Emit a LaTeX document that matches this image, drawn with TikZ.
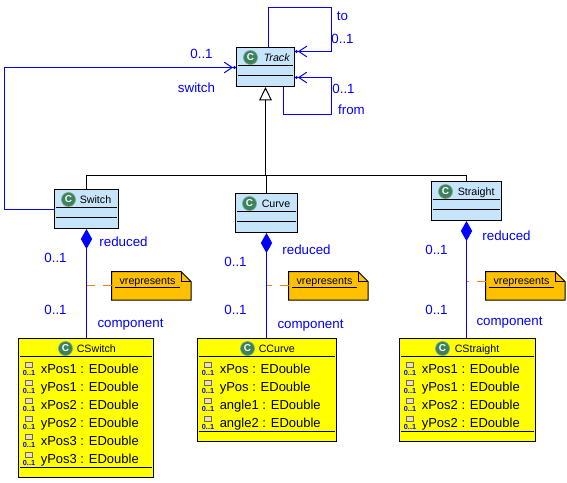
\documentclass[tikz,border=0pt]{standalone}
\usepackage{fontspec}
\setmainfont{Liberation Sans}
\usetikzlibrary{arrows.meta,calc}
\definecolor{classblue}{RGB}{198,228,250}
\definecolor{classyellow}{RGB}{255,255,0}
\definecolor{noteorange}{RGB}{255,192,0}
\definecolor{linkblue}{RGB}{0,0,255}
\definecolor{dashorange}{RGB}{255,128,0}
\definecolor{icongreen}{RGB}{60,130,90}
\definecolor{attrtan}{RGB}{240,225,170}
\tikzset{
  classbox/.style={draw=black, line width=0.75pt, inner sep=0pt},
  titletext/.style={anchor=west, inner sep=0pt, text height=6pt, text depth=0pt, font=\fontsize{8}{8}\selectfont},
  classicon/.style={circle, fill=icongreen, draw=icongreen!70!white, line width=0.5pt, inner sep=0pt,
    minimum size=10.5pt, text=white, font=\bfseries\fontsize{7.5}{7.5}\selectfont},
  attrtext/.style={anchor=west, inner sep=0pt, text height=7pt, text depth=0pt, font=\fontsize{9.75}{9.75}\selectfont},
  linklabel/.style={inner sep=0pt, text=linkblue, text height=7pt, text depth=0pt, font=\fontsize{10}{10}\selectfont},
  reflink/.style={draw=linkblue, line width=0.75pt},
  opentip/.style={-{Straight Barb[length=6pt,width=8pt]Circle[length=2.2pt]}},
  complink/.style={draw=linkblue, line width=0.75pt, {Diamond[length=15pt,width=8.5pt,fill=linkblue]}-},
  inherit/.style={draw=black, line width=0.75pt},
  notelink/.style={draw=dashorange, line width=1pt, dash pattern=on 6.75pt off 5.6pt}
}
\begin{document}
\begin{tikzpicture}[x=0.75pt, y=-0.75pt]
    \useasboundingbox (-0.5,-0.5) rectangle (566.5,481.5);
    % Light blue classes
    \foreach \nm/\cx/\cy/\bw/\ix/\tx/\ttl in {
        track/265/66.5/58/250/263/\textit{Track},
        switch/86/208.5/64/68/79/Switch,
        curve/266/212.5/62/249/261/Curve,
        straight/466/200.5/70/445/457/Straight}{
      \node[classbox, fill=classblue, minimum width=\bw*0.75pt, minimum height=29.25pt] (\nm) at (\cx,\cy) {};
      \draw[black, line width=0.75pt] ($(\nm.north west)+(2,18)$) -- ($(\nm.north east)+(-2,18)$);
      \draw[black, line width=0.75pt] ($(\nm.north west)+(2,28)$) -- ($(\nm.north east)+(-2,28)$);
      \node[classicon] (\nm icon) at (\ix,\cy-9.5) {C};
      \node[titletext] (\nm title) at (\tx,\cy-9.5) {\ttl};
    }
    % Yellow classes
    \foreach \nm/\cx/\bw/\bh/\ix/\tx/\ttl in {
        cswitch/85.5/135/139/65/76/CSwitch,
        ccurve/266.5/139/103/247/258/CCurve,
        cstraight/467/136/103/442/454/CStraight}{
      \node[classbox, fill=classyellow, minimum width=\bw*0.75pt, minimum height=\bh*0.75pt] (\nm) at (\cx,338+\bh/2) {};
      \draw[black, line width=0.75pt] ($(\nm.north west)+(2,18)$) -- ($(\nm.north east)+(-2,18)$);
      \draw[black, line width=0.75pt] ($(\nm.south west)+(2,-11)$) -- ($(\nm.south east)+(-2,-11)$);
      \node[classicon] (\nm icon) at (\ix,348) {C};
      \node[titletext] (\nm title) at (\tx,348) {\ttl};
    }
    % Attributes
    \foreach \ax/\ay/\nm in {
        22/368/xPos1, 22/386/yPos1, 22/404/xPos2, 22/422/yPos2, 22/440/xPos3, 22/458/yPos3,
        201/368/xPos, 201/386/yPos, 201/404/angle1, 201/422/angle2,
        403/368/xPos1, 403/386/yPos1, 403/404/xPos2, 403/422/yPos2}{
      \draw[fill=attrtan, draw=black!60, line width=0.75pt] (\ax+3,\ay-6) rectangle (\ax+10,\ay-1);
      \node[inner sep=0pt, text=linkblue, font=\bfseries\fontsize{5.5}{5.5}\selectfont] at (\ax+6.5,\ay+4) {0..1};
      \node[attrtext] at (\ax+18,\ay) {\nm\ : EDouble};
    }
    % Notes
    \foreach \nm/\nx in {switchnote/111, curvenote/288, straightnote/485}{
      \node[inner sep=0pt, minimum width=59.25pt, minimum height=21pt, anchor=north west] (\nm) at (\nx,271) {};
      \draw[fill=noteorange, draw=black, line width=0.75pt] (\nm.north west) -- ($(\nm.north east)+(-10,0)$)
        -- ($(\nm.north east)+(0,10)$) -- (\nm.south east) -- (\nm.south west) -- cycle;
      \draw[black, line width=0.5pt] ($(\nm.north east)+(-10,0)$) -- ($(\nm.north east)+(-10,10)$) -- ($(\nm.north east)+(0,10)$);
      \draw[black, line width=0.75pt] ($(\nm.west)+(3,2)$) -- ($(\nm.west)+(68,2)$);
      \node[inner sep=0pt, font=\fontsize{8}{8}\selectfont] at ($(\nm.west)+(36,-4)$) {vrepresents};
    }
    % Inheritance tree
    \coordinate (bus) at (265,175);
    \draw[inherit] (switch.north) |- (bus);
    \draw[inherit] (straight.north) |- (bus);
    \draw[inherit] (curve.north) |- (bus);
    \draw[inherit, -{Triangle[open,fill=white,length=10pt,width=9.5pt]}] (bus) -- (track.south);
    % Track references
    \coordinate (toup) at (268,7);
    \coordinate (toright) at (331,51);
    \coordinate (fromdown) at (283,114);
    \coordinate (fromright) at (331,77);
    \coordinate (switchout) at (4,209);
    \coordinate (switchin) at (4,67);
    \draw[reflink, opentip] (track.north -| toup) -- (toup) -| (toright) -- (track.east |- toright);
    \draw[reflink, opentip] (track.south -| fromdown) -- (fromdown) -| (fromright) -- (track.east |- fromright);
    \draw[reflink, opentip] (switch.west |- switchout) -- (switchout) -- (switchin) -- (track.west |- switchin);
    % Compositions
    \draw[complink] (switch.south) -- (cswitch.north -| switch.south);
    \draw[complink] (curve.south) -- (ccurve.north -| curve.south);
    \draw[complink] (straight.south) -- (cstraight.north -| straight.south);
    % Note links
    \draw[notelink] (switchnote.west) -- (switch.south |- switchnote.west);
    \draw[notelink] (curvenote.west) -- (curve.south |- curvenote.west);
    \coordinate (straightdash) at (485,281);
    \draw[notelink] (straightdash) -- (straight.south |- straightdash);
    % Labels
    \foreach \lx/\ly/\txt in {
        342/15/to, 342/38/0..1, 343/88/0..1, 351/109/from, 201/53/0..1, 196/87/switch,
        123/241/reduced, 55/257/0..1, 55/309/0..1, 130/322/component,
        306/249/reduced, 235/261/0..1, 235/309/0..1, 310/323/component,
        506/235/reduced, 436/249/0..1, 436/309/0..1, 509/320/component}{
      \node[linklabel] at (\lx,\ly) {\txt};
    }
  \end{tikzpicture}
\end{document}
